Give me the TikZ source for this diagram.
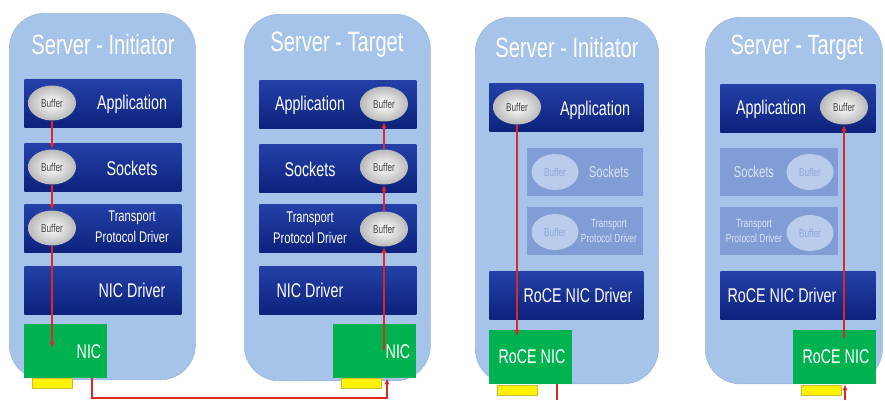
\documentclass[tikz,border=0pt]{standalone}
\usepackage{fontspec}
\setmainfont{Liberation Sans}[FakeStretch=0.72]
\usetikzlibrary{shapes.geometric,arrows.meta,positioning,calc}

\definecolor{serverblue}{RGB}{166,195,234}
\definecolor{layertop}{RGB}{36,64,168}
\definecolor{layerbot}{RGB}{12,34,124}
\definecolor{fadedlayer}{RGB}{128,157,214}
\definecolor{fadedbuf}{RGB}{186,204,236}
\definecolor{fadedtext}{RGB}{218,227,245}
\definecolor{nicgreen}{RGB}{0,178,80}
\definecolor{flowred}{RGB}{222,40,40}

\tikzset{
    server/.style={draw=serverblue!85!gray, fill=serverblue, rounded corners=0.7cm,
        minimum width=#1, minimum height=7.33cm, anchor=north west, inner sep=0},
    layer/.style={rectangle, top color=layertop, bottom color=layerbot,
        minimum width=#1, minimum height=0.96cm, anchor=north west, inner sep=0},
    fadedbar/.style={rectangle, fill=fadedlayer, minimum width=#1,
        minimum height=0.95cm, anchor=north west, inner sep=0},
    nic/.style={rectangle, fill=nicgreen, minimum width=1.65cm,
        minimum height=1.07cm, anchor=north west, inner sep=0},
    port/.style={rectangle, fill=yellow, draw=yellow!75!black, line width=0.3pt,
        minimum width=0.8cm, minimum height=0.2cm, anchor=north west, inner sep=0},
    buffer/.style={ellipse, inner color=white, outer color=gray!55,
        minimum width=0.96cm, minimum height=0.7cm, inner sep=0,
        text=black!75, font=\fontsize{6.5}{7}\selectfont},
    fadedbuffer/.style={ellipse, fill=fadedbuf, minimum width=0.94cm,
        minimum height=0.72cm, inner sep=0,
        text=fadedlayer!90!white, font=\fontsize{6.5}{7}\selectfont},
    title/.style={text=white, font=\fontsize{15.9}{18}\selectfont},
    lbl/.style={text=white, font=\fontsize{11.3}{13}\selectfont},
    small/.style={text=white, align=center, font=\fontsize{8.8}{11.9}\selectfont},
    fadedlbl/.style={text=fadedtext, align=center, font=#1},
    flow/.style={draw=flowred, line width=0.7pt, -{Latex[length=3.5pt,width=3pt]}},
    wire/.style={draw=flowred, line width=0.7pt}
}

\begin{document}
\begin{tikzpicture}[x=0.02cm, y=-0.02cm]
    \useasboundingbox (0,0) rectangle (885,400);

    % Server - Initiator (TCP stack)
    \node[server=3.72cm] (srv1) at (9,13) {};
    \node[title] (ttl1) at (103,45) {Server - Initiator};
    \node[layer=3.14cm] (app1) at (24,79) {};
    \node[layer=3.14cm] (sck1) at (24,143) {};
    \node[layer=3.14cm] (tpd1) at (24,204) {};
    \node[layer=3.14cm] (drv1) at (24,266) {};
    \node[nic] (nic1) at (24,324) {};
    \node[port] (prt1) at (32,378) {};
    \node[buffer] (bapp1) at (52,103) {Buffer};
    \node[buffer] (bsck1) at (52,167) {Buffer};
    \node[buffer] (btpd1) at (52,228) {Buffer};
    \node[lbl] (lapp1) at (132,104) {Application};
    \node[lbl] (lsck1) at (132,168) {Sockets};
    \node[small] (ltpd1) at (132,227) {Transport\\Protocol Driver};
    \node[lbl] (ldrv1) at (132,290) {NIC Driver};
    \node[lbl] (lnic1) at (89,352) {NIC};

    % Server - Target (TCP stack)
    \node[server=3.72cm] (srv2) at (244,14) {};
    \node[title] (ttl2) at (337,45) {Server - Target};
    \node[layer=3.14cm] (app2) at (259,80) {};
    \node[layer=3.14cm] (sck2) at (259,144) {};
    \node[layer=3.14cm] (tpd2) at (259,204) {};
    \node[layer=3.14cm] (drv2) at (259,266) {};
    \node[nic] (nic2) at (333,324) {};
    \node[port] (prt2) at (341,378) {};
    \node[buffer] (bapp2) at (384,104) {Buffer};
    \node[buffer] (bsck2) at (384,167) {Buffer};
    \node[buffer] (btpd2) at (384,229) {Buffer};
    \node[lbl] (lapp2) at (310,105) {Application};
    \node[lbl] (lsck2) at (310,169) {Sockets};
    \node[small] (ltpd2) at (310,228) {Transport\\Protocol Driver};
    \node[lbl] (ldrv2) at (310,290) {NIC Driver};
    \node[lbl] (lnic2) at (398,352) {NIC};

    % Server - Initiator (RoCE)
    \node[server=3.66cm] (srv3) at (475,17) {};
    \node[title] (ttl3) at (567,48) {Server - Initiator};
    \node[layer=3.08cm] (app3) at (489,83) {};
    \node[fadedbar=2.32cm] (sck3) at (527,148) {};
    \node[fadedbar=2.32cm] (tpd3) at (527,207) {};
    \node[layer=3.08cm] (drv3) at (489,271) {};
    \node[nic] (nic3) at (489,330) {};
    \node[port] (prt3) at (497,385) {};
    \node[buffer] (bapp3) at (517,107) {Buffer};
    \node[fadedbuffer] (bsck3) at (555,172) {Buffer};
    \node[fadedbuffer] (btpd3) at (555,232) {Buffer};
    \node[lbl] (lapp3) at (595,110) {Application};
    \node[fadedlbl=\fontsize{8.9}{10}\selectfont] (lsck3) at (609,172) {Sockets};
    \node[fadedlbl=\fontsize{6.7}{9}\selectfont] (ltpd3) at (609,231) {Transport\\Protocol Driver};
    \node[lbl] (ldrv3) at (578,295) {RoCE NIC Driver};
    \node[lbl] (lnic3) at (532,357) {RoCE NIC};

    % Server - Target (RoCE)
    \node[server=3.54cm] (srv4) at (705,17) {};
    \node[title] (ttl4) at (797,48) {Server - Target};
    \node[layer=3.10cm] (app4) at (720,84) {};
    \node[fadedbar=2.36cm] (sck4) at (720,148) {};
    \node[fadedbar=2.36cm] (tpd4) at (720,207) {};
    \node[layer=3.10cm] (drv4) at (720,271) {};
    \node[nic] (nic4) at (793,330) {};
    \node[port] (prt4) at (801,385) {};
    \node[buffer] (bapp4) at (844,107) {Buffer};
    \node[fadedbuffer] (bsck4) at (810,172) {Buffer};
    \node[fadedbuffer] (btpd4) at (810,233) {Buffer};
    \node[lbl] (lapp4) at (771,109) {Application};
    \node[fadedlbl=\fontsize{8.9}{10}\selectfont] (lsck4) at (754,172) {Sockets};
    \node[fadedlbl=\fontsize{6.7}{9}\selectfont] (ltpd4) at (754,231) {Transport\\Protocol Driver};
    \node[lbl] (ldrv4) at (782,295) {RoCE NIC Driver};
    \node[lbl] (lnic4) at (836,357) {RoCE NIC};

    % Data path through the stacks
    \coordinate (end1) at (52,348);
    \coordinate (start2) at (384,350);
    \coordinate (end3) at (517,336);
    \coordinate (start4) at (844,338);
    \draw[flow] (bapp1) -- (bsck1);
    \draw[flow] (bsck1) -- (btpd1);
    \draw[flow] (btpd1) -- (end1);
    \draw[flow] (start2) -- (btpd2);
    \draw[flow] (btpd2) -- (bsck2);
    \draw[flow] (bsck2) -- (bapp2);
    \draw[flow] (bapp3) -- (end3);
    \draw[flow] (start4) -- (bapp4);

    % Cables between the NICs
    \coordinate (tap1) at (92,398);
    \coordinate (tap2) at (387,398);
    \coordinate (tap3) at (557,400);
    \coordinate (tap4) at (845,400);
    \draw[flow] (nic1.south -| tap1) -- (tap1) -- (tap2) -- (nic2.south -| tap2);
    \draw[wire] (nic3.south -| tap3) -- (tap3);
    \draw[flow] (tap4) -- (nic4.south -| tap4);
\end{tikzpicture}
\end{document}
